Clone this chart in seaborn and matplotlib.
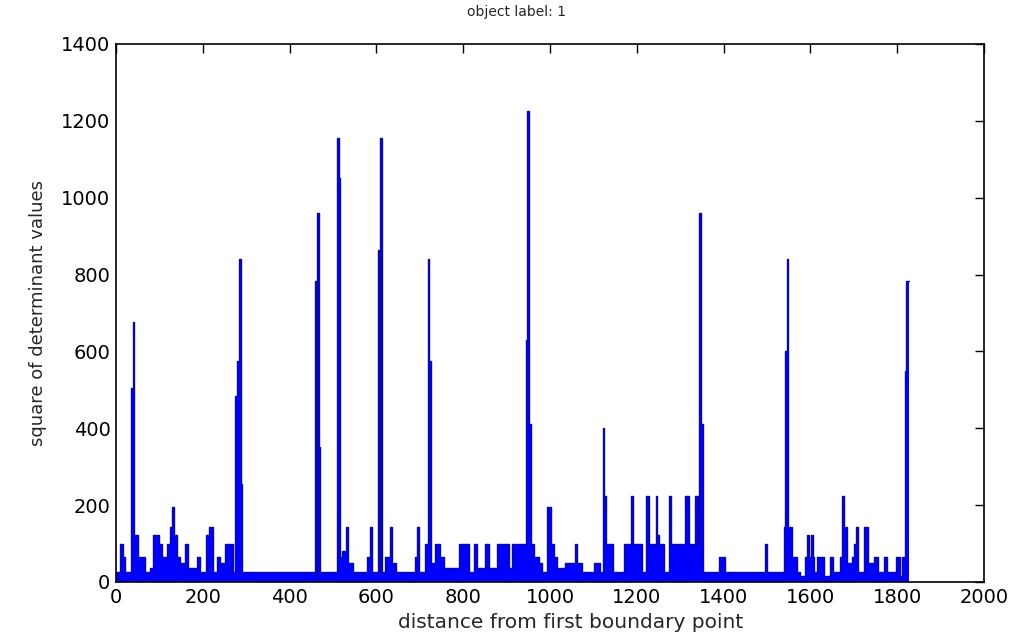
import numpy as np
import pandas as pd
import seaborn as sns
import matplotlib.pyplot as plt

# step profile: each segment starts at seg_start and holds seg_value
seg_start = [0, 10, 15, 21, 35, 38, 42, 50, 66, 78, 86, 98, 106, 117, 124, 130, 134, 141, 147, 159,
             166, 186, 193, 207, 215, 224, 232, 240, 251, 270, 274, 278, 283, 287, 291, 459, 462, 464, 468, 471,
             510, 514, 517, 521, 530, 534, 545, 579, 585, 589, 604, 607, 609, 612, 620, 632, 636, 645, 690, 694,
             698, 712, 718, 722, 726, 736, 747, 755, 790, 813, 824, 832, 851, 859, 878, 905, 913, 945, 948, 952,
             956, 964, 975, 981, 994, 1002, 1009, 1016, 1035, 1058, 1062, 1074, 1101, 1116, 1121, 1125, 1129, 1146, 1170, 1186,
             1192, 1212, 1220, 1227, 1244, 1247, 1252, 1262, 1274, 1279, 1312, 1320, 1335, 1341, 1344, 1348, 1352, 1389, 1404, 1495,
             1499, 1538, 1542, 1545, 1549, 1557, 1569, 1575, 1588, 1593, 1597, 1601, 1605, 1608, 1615, 1631, 1644, 1653, 1669, 1673,
             1677, 1684, 1696, 1700, 1704, 1709, 1723, 1732, 1746, 1755, 1769, 1777, 1796, 1807, 1811, 1818, 1821]
seg_value = [25, 100, 64, 25, 506, 676, 121, 64, 25, 36, 121, 100, 64, 100, 144, 196, 121, 64, 49, 100,
             36, 64, 25, 121, 144, 25, 64, 49, 100, 25, 484, 576, 841, 256, 25, 784, 0, 961, 350, 25,
             1156, 1050, 64, 81, 144, 49, 25, 64, 144, 25, 864, 25, 1156, 25, 64, 144, 49, 25, 64, 144,
             25, 100, 841, 576, 49, 100, 64, 36, 100, 25, 100, 36, 100, 36, 100, 36, 100, 630, 1225, 410,
             100, 64, 49, 25, 196, 100, 64, 36, 49, 100, 49, 25, 49, 25, 400, 225, 100, 25, 100, 225,
             100, 25, 225, 100, 225, 121, 100, 25, 225, 100, 225, 100, 225, 100, 961, 410, 25, 64, 25, 100,
             25, 144, 600, 841, 144, 64, 25, 16, 64, 121, 64, 121, 64, 25, 64, 16, 64, 25, 64, 225,
             144, 49, 64, 100, 144, 25, 144, 49, 64, 25, 64, 25, 64, 16, 64, 550, 784]
last_point = 1826

x_ticks = [0, 200, 400, 600, 800, 1000, 1200, 1400, 1600, 1800, 2000]
y_ticks = [0, 200, 400, 600, 800, 1000, 1200, 1400]

df = pd.DataFrame({"dist": seg_start + [last_point],
                   "val": seg_value + [seg_value[-1]]})

sns.set_theme(style="white")
plt.rcParams['font.family'] = ['DejaVu Sans']

fig = plt.figure(figsize=(10.15, 6.42), dpi=100)
ax = fig.add_axes([0.1143, 0.0935, 0.8552, 0.838])

ax.fill_between(df["dist"], df["val"], 0, step="post", color="#0000ff", linewidth=0)
sns.lineplot(data=df, x="dist", y="val", ax=ax, drawstyle="steps-post",
             color="#0a0a9e", linewidth=1.0, estimator=None, sort=False)

ax.set_xlim(0, 2000)
ax.set_ylim(0, 1400)
ax.set_xticks(x_ticks)
ax.set_yticks(y_ticks)
ax.tick_params(axis="both", which="major", direction="in", length=6.5, width=1,
               top=True, right=True, labelsize=14, colors="black", pad=4)
for s in ax.spines.values():
    s.set_visible(True)
    s.set_color("black")
    s.set_linewidth(1.2)

# title and x label sit a little off the axes centre in the original
ax.set_title("object label: 1", fontsize=10, x=0.461, pad=20)
ax.set_xlabel("distance from first boundary point", fontsize=14.5, labelpad=4)
ax.xaxis.set_label_coords(0.524, -0.058)
ax.set_ylabel("square of determinant values", fontsize=13, labelpad=10)

fig.savefig("out.png", dpi=100)
